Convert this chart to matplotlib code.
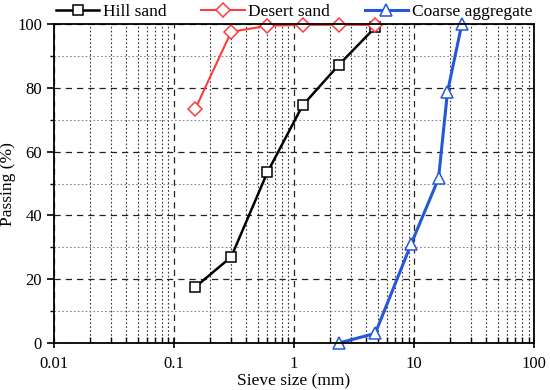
import matplotlib
matplotlib.use("Agg")
import matplotlib.pyplot as plt
from matplotlib.ticker import LogLocator, FixedLocator, NullFormatter, FuncFormatter

plt.rcParams['font.family'] = ['Liberation Serif', 'DejaVu Serif']

# 체 크기(mm)와 통과율(%)
hill_x = [0.15, 0.3, 0.6, 1.18, 2.36, 4.75]
hill_y = [17.5, 27.0, 53.5, 74.5, 87.2, 99.0]

desert_x = [0.15, 0.3, 0.6, 1.18, 2.36, 4.75]
desert_y = [73.3, 97.6, 99.5, 99.8, 99.8, 99.8]

coarse_x = [2.36, 4.75, 9.5, 16.0, 19.0, 25.0]
coarse_y = [0.0, 3.0, 31.2, 51.6, 78.7, 100.0]

fig = plt.figure(figsize=(5.5, 3.9), dpi=100)
ax = fig.add_axes([0.098, 0.1205, 0.873, 0.8175])

ax.plot(hill_x, hill_y, color='black', lw=1.8, marker='s', ms=6.5,
        mfc='white', mec='black', mew=1.1, label='Hill sand', clip_on=False)
ax.plot(desert_x, desert_y, color='#ff3b3b', lw=1.5, marker='D', ms=7,
        mfc='white', mec='#ff3b3b', mew=1.1, label='Desert sand', clip_on=False)
ax.plot(coarse_x, coarse_y, color='#2458d8', lw=2.2, marker='^', ms=8.5,
        mfc='white', mec='#2458d8', mew=1.1, label='Coarse aggregate', clip_on=False)

ax.set_xscale('log')
ax.set_xlim(0.01, 100)
ax.set_ylim(0, 100)
ax.xaxis.set_major_locator(LogLocator(base=10, numticks=10))
ax.xaxis.set_minor_locator(LogLocator(base=10, subs=range(2, 10), numticks=20))
ax.xaxis.set_minor_formatter(NullFormatter())
ax.xaxis.set_major_formatter(FuncFormatter(lambda v, p: '%g' % v))
ax.yaxis.set_major_locator(FixedLocator([0, 20, 40, 60, 80, 100]))
ax.yaxis.set_minor_locator(FixedLocator([10, 30, 50, 70, 90]))

ax.grid(which='major', color='#222222', ls=(0, (5, 4)), lw=0.9)
ax.grid(which='minor', axis='x', color='#333333', ls=(0, (1.5, 2)), lw=0.8)
ax.grid(which='minor', axis='y', color='#888888', ls=(0, (1.5, 2)), lw=0.8)
ax.set_axisbelow(True)

for s in ax.spines.values():
    s.set_linewidth(1.3)
ax.tick_params(axis='y', which='major', direction='out', length=5, width=1.2, labelsize=12)
ax.tick_params(axis='y', which='minor', direction='out', length=3, width=1.0)
ax.tick_params(axis='x', which='major', direction='inout', length=7, width=1.2, labelsize=12, pad=6)
ax.tick_params(axis='x', which='minor', direction='in', length=4, width=1.0)

ax.set_xlabel('Sieve size (mm)', fontsize=12.5, labelpad=1)
ax.set_ylabel('Passing (%)', fontsize=12.5, labelpad=1)

ax.legend(loc='lower center', bbox_to_anchor=(0.5, 1.012), ncol=3, frameon=False,
          fontsize=12.5, handlelength=2.5, columnspacing=2.0, handletextpad=0.2,
          borderaxespad=0.0, borderpad=0.0)

plt.savefig('out.png', dpi=100)
